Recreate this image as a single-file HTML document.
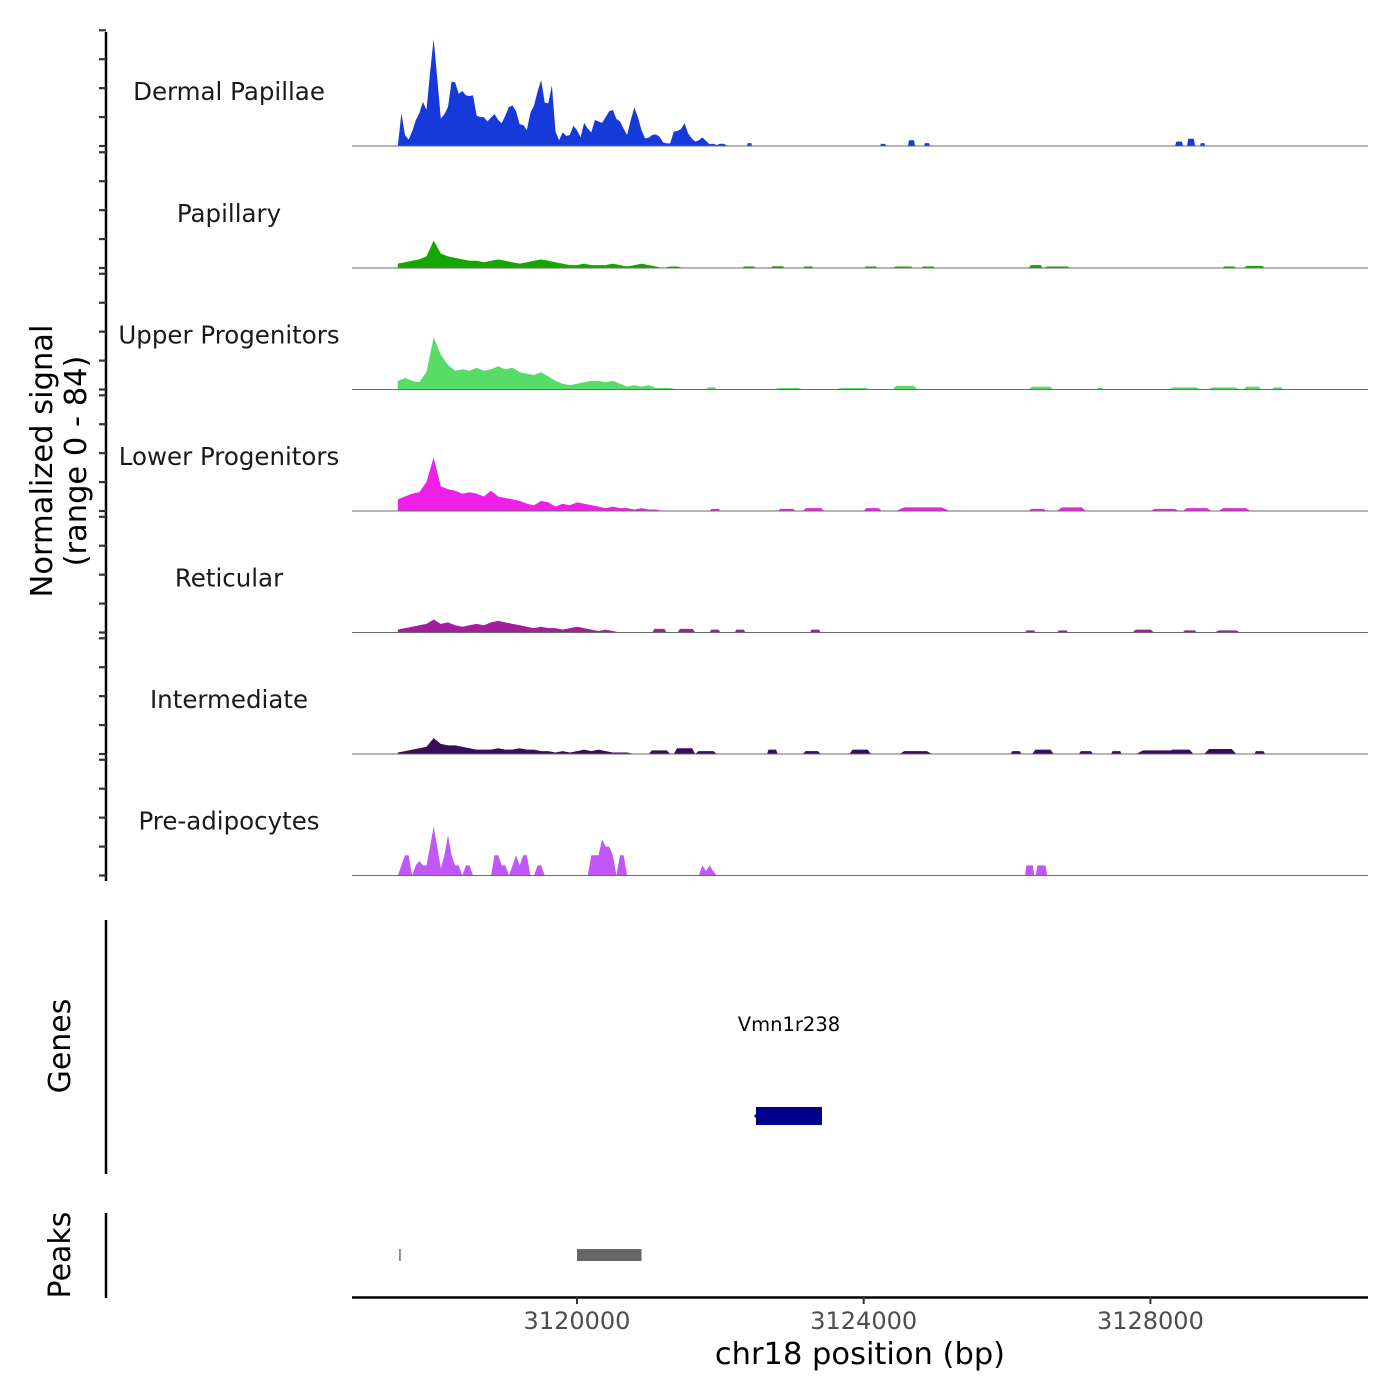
<!DOCTYPE html>
<html><head><meta charset="utf-8">
<style>
html,body{margin:0;padding:0;background:#fff;}
svg{display:block;font-family:"DejaVu Sans","Liberation Sans",sans-serif;}
</style></head>
<body>
<svg id="chart" width="1400" height="1400" viewBox="0 0 1400 1400" xmlns="http://www.w3.org/2000/svg">
<rect width="1400" height="1400" fill="#fff"/>
<g id="tracks"></g>
<g id="yaxis"></g>
<text transform="translate(52,461) rotate(-90)" text-anchor="middle" font-size="30.5" fill="#000"><tspan x="0" dy="0">Normalized signal</tspan><tspan x="0" dy="34">(range 0 - 84)</tspan></text>
<line x1="106" y1="920" x2="106" y2="1174" stroke="#000" stroke-width="2.5"/>
<text transform="translate(70,1046) rotate(-90)" text-anchor="middle" font-size="30">Genes</text>
<g id="genes"></g>
<line x1="106" y1="1213" x2="106" y2="1298" stroke="#000" stroke-width="2.5"/>
<text transform="translate(70,1255) rotate(-90)" text-anchor="middle" font-size="30">Peaks</text>
<g id="peaks"></g>
<line x1="352" y1="1297.5" x2="1368" y2="1297.5" stroke="#000" stroke-width="2.5"/>
<g id="xaxis"></g>
<text x="860" y="1364" text-anchor="middle" font-size="30.5">chr18 position (bp)</text>
</svg>
<script>
// ---- data ----
const trackNames = ["Dermal Papillae","Papillary","Upper Progenitors","Lower Progenitors","Reticular","Intermediate","Pre-adipocytes"];
const trackColors = ["#1639d9","#17a600","#58dc68","#ee1fe6","#a31d9e","#3a0d5b","#c157f7"];
const binStart = 3117500;
const binSteps = [50,100,100,100,100,100,50];
const dpValues = [0,22.6,7.6,4.4,10,17.7,22.6,30.6,25,51,74,47,19,22,27,44.5,44,36,38,35,34.6,35,21,20,20,17,19.6,22,18,15.7,21,27,28,24,15,14.5,11,23,28,37.6,45.6,30,29.5,42,10,4,9.4,7,7.6,14,11,6,16,12,9.4,18,17,16,20,24,25,18.7,17,12,7.6,18,26.5,20,11,5.3,5.8,7.6,8,6.5,2.5,1.8,1.8,10,10.4,11.7,15.7,8.8,5.3,3,4,6,3.5,1.2,1.6,0.7,1.6,1.6,0];
const papValues = [3,4,5,6,8,19,10,8,7,6,5,5,4,5,6,5,4,3,4,5,6,5,4,3,2,2,3,2,2,2,3,2,1,2,3,2,1,0,1,1,0];
const upperValues = [6,8,6,5,12,36,24,17,13,14,13,15,13,14,16,14,15,12,11,10,12,9,6,4,3,4,5,6,6,5,6,4,2,3,2,3,1,1,1,0];
const lowerValues = [8,10,12,13,20,37,17,15,14,12,13,12,10,14,10,9,8,7,5,4,7,6,3,5,4,6,5,4,3,2,3,2,2,1,2,1,1,0];
const retValues = [2,3,4,5,6,9,6,7,5,4,5,6,5,7,8,7,6,5,4,3,4,3,3,2,3,4,3,2,1,2,1,0];
const intValues = [1,2,3,4,5,11,7,6,6,5,4,3,3,3,4,3,3,4,3,3,2,2,1,2,1,2,3,2,3,2,1,1,1,0];
const preValues = [0,7,14,14,0,7,10,7,7,20,34,20,5,14,28,14,7,7,0,7,7,0,0,0,0,0,0,14,14,7,7,0,7,14,7,14,14,0,0,7,7,0,0,0,0,0,0,0,0,0,0,0,0,0,14,14,14,25,20,20,14,0,14,14,0,0,0,0,0,0,0,0,0,0,0,0,0,0,0,0,0,0,0,0,0,7,3,7,3,0];
// sparse bumps per track: start bp, end bp, value
const dpBumpStart = [3122372,3124228,3124618,3124842,3128344,3128511,3128693];
const dpBumpEnd   = [3122442,3124311,3124716,3124925,3128456,3128623,3128763];
const dpBumpVal   = [2,1.5,4,2,3,5,2];
const papBumpStart = [3122300,3122700,3123150,3124000,3124400,3124800,3126300,3126500,3129000,3129300];
const papBumpEnd   = [3122500,3122900,3123300,3124200,3124700,3125000,3126500,3126900,3129200,3129600];
const papBumpVal   = [1,1.2,1,1,1,1,2,1,1,1.5];
const upperBumpStart = [3121800,3122750,3123600,3124400,3126300,3127250,3128250,3128800,3129300,3129700];
const upperBumpEnd   = [3121950,3123150,3124100,3124750,3126650,3127350,3128700,3129250,3129550,3129850];
const upperBumpVal   = [1.5,1,1,2.5,2,1,1.5,1.5,2,1.5];
const lowerBumpStart = [3121850,3122800,3123150,3124000,3124450,3126300,3126700,3128000,3128450,3128950];
const lowerBumpEnd   = [3122000,3123050,3123450,3124250,3125200,3126550,3127100,3128400,3128850,3129400];
const lowerBumpVal   = [1.5,1.5,2,2,2.5,1.5,2.5,1.5,2,2];
const retBumpStart = [3121050,3121400,3121850,3122200,3123250,3126250,3126700,3127750,3128450,3128900];
const retBumpEnd   = [3121250,3121650,3122000,3122350,3123400,3126400,3126850,3128050,3128650,3129250];
const retBumpVal   = [2.5,2.5,2,2,2,1.5,1.5,2,1.5,1.5];
const intBumpStart = [3121000,3121350,3121650,3122650,3123150,3123800,3124500,3126050,3126350,3127000,3127450,3127800,3128250,3128750,3129450];
const intBumpEnd   = [3121300,3121650,3121950,3122800,3123400,3124100,3124950,3126200,3126650,3127200,3127600,3128450,3128600,3129200,3129600];
const intBumpVal   = [2.5,4,2,3,2,3,2,2,3,2,2,2.5,3,3.5,2];
const preBumpStart = [3126250,3126400];
const preBumpEnd   = [3126380,3126560];
const preBumpVal   = [7,7];
// genes / peaks
const geneNames = ["Vmn1r238"];
const geneStart = [3122497];
const geneEnd = [3123418];
const peakStart = [3117520,3120000];
const peakEnd = [3117540,3120900];
const xTicks = [3120000,3124000,3128000];

// ---- scales ----
const X0 = 577, BP0 = 3120000, PXBP = 286.7/4000;
function xs(bp){ return X0 + (bp - BP0) * PXBP; }
const baselines = [146,268,389.5,511,632.5,754,875.5];
const YPX = 121.5/84;
function ys(v, t){ return baselines[t] - v * YPX; }

const NS = "http://www.w3.org/2000/svg";
function mk(tag, attrs, parent){ const e=document.createElementNS(NS,tag); for(const k in attrs) e.setAttribute(k,attrs[k]); parent.appendChild(e); return e; }

const denseAll = [dpValues,papValues,upperValues,lowerValues,retValues,intValues,preValues];
const bumpS = [dpBumpStart,papBumpStart,upperBumpStart,lowerBumpStart,retBumpStart,intBumpStart,preBumpStart];
const bumpE = [dpBumpEnd,papBumpEnd,upperBumpEnd,lowerBumpEnd,retBumpEnd,intBumpEnd,preBumpEnd];
const bumpV = [dpBumpVal,papBumpVal,upperBumpVal,lowerBumpVal,retBumpVal,intBumpVal,preBumpVal];

const tg = document.getElementById("tracks");
trackNames.forEach((name, t) => {
  const g = mk("g", {}, tg);
  
  
  const vals = denseAll[t], step = binSteps[t];
  let d = "M" + xs(binStart).toFixed(2) + "," + baselines[t];
  vals.forEach((v, i) => { d += " L" + xs(binStart + step*i).toFixed(2) + "," + ys(v,t).toFixed(2); });
  d += " L" + xs(binStart + step*(vals.length-1)).toFixed(2) + "," + baselines[t] + " Z";
  const area = mk("path", {d: d, fill: trackColors[t]}, g);
  
  
  bumpS[t].forEach((s, j) => {
    const e = bumpE[t][j], v = bumpV[t][j], w = (e - s) * 0.15;
    const pd = "M"+xs(s)+","+baselines[t]+" L"+xs(s+w)+","+ys(v,t)+" L"+xs(e-w)+","+ys(v,t)+" L"+xs(e)+","+baselines[t]+" Z";
    const b = mk("path", {d: pd, fill: trackColors[t]}, g);
    
    
  });
  const bl = mk("line", {x1:352, x2:1368, y1:baselines[t], y2:baselines[t], stroke:"#6b6b6b", "stroke-width":1}, g);
  
  
  const lab = mk("text", {x:229, y:baselines[t]-46, "text-anchor":"middle", "font-size":24.5, fill:"#1a1a1a"}, g);
  lab.textContent = name;
  
  
});

// y axis
const ya = document.getElementById("yaxis");
const al = mk("line", {x1:106, x2:106, y1:32, y2:881, stroke:"#000", "stroke-width":2.5}, ya);


const yTickVals = [0,20,40,60,80];
baselines.forEach((b, t) => {
  yTickVals.forEach(v => {
    const tk = mk("line", {x1:99, x2:106, y1:ys(v,t), y2:ys(v,t), stroke:"#333", "stroke-width":2.2}, ya);
    
    
  });
});

// genes
const gg = document.getElementById("genes");
geneNames.forEach((n, i) => {
  const r = mk("rect", {x:xs(geneStart[i]), y:1107, width:xs(geneEnd[i])-xs(geneStart[i]), height:18, fill:"#00008b"}, gg);
  
  
  const ar = mk("path", {d:"M"+(xs(geneStart[i])-2)+",1116 l3,-3 v6 z", fill:"#00008b"}, gg);
  
  
  const tx = mk("text", {x:(xs(geneStart[i])+xs(geneEnd[i]))/2, y:1031, "text-anchor":"middle", "font-size":19.5, fill:"#000"}, gg);
  tx.textContent = n;
  
  
});

// peaks
const pg = document.getElementById("peaks");
peakStart.forEach((s, i) => {
  const r = mk("rect", {x:xs(s), y:1249, width:Math.max(1, xs(peakEnd[i])-xs(s)), height:12, fill:"#666"}, pg);
  
  
});

// x axis
const xa = document.getElementById("xaxis");
xTicks.forEach(v => {
  const tk = mk("line", {x1:xs(v), x2:xs(v), y1:1297, y2:1304, stroke:"#333", "stroke-width":2}, xa);
  
  
  const tl = mk("text", {x:xs(v), y:1329, "text-anchor":"middle", "font-size":24, fill:"#4d4d4d"}, xa);
  tl.textContent = String(v);
  
  
});
</script>
</body></html>
